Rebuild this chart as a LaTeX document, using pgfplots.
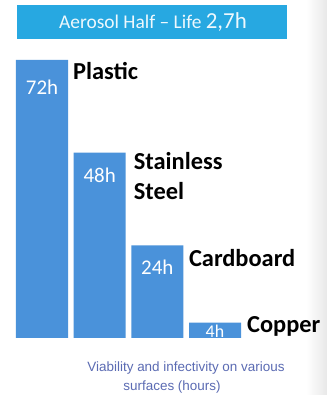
\documentclass[border=0pt]{standalone}
\usepackage{pgfplots}
\pgfplotsset{compat=1.18}
\usepackage{fontspec}
\setmainfont{Carlito}
\newfontfamily\arialf{Liberation Sans}
\definecolor{barblue}{HTML}{4A92DA}
\definecolor{bannerblue}{HTML}{27A8E1}
\definecolor{captioncol}{HTML}{5B6BB3}
\begin{document}
\begin{tikzpicture}
\useasboundingbox (0,0) rectangle (327bp,395bp);
\fill[white] (0,0) rectangle (327bp,395bp);
\shade[left color=white, right color=black!9] (306bp,0) rectangle (327bp,395bp);
% banner
\fill[bannerblue] (17bp,356bp) rectangle (287bp,390bp);
\node[white!92!bannerblue, anchor=base] at (153bp,366bp) {\fontsize{19.5}{21}\selectfont Aerosol Half -- Life \fontsize{23}{24}\selectfont 2,7h};
\begin{axis}[
  at={(42bp,57bp)}, anchor=south west,
  scale only axis, width=173bp, height=278bp,
  xmin=0, xmax=3, ymin=0, ymax=72,
  axis lines=none, clip=false,
  enlargelimits=false,
]
\addplot[ybar, bar width=52bp, bar shift=0pt, fill=barblue, draw=none]
  coordinates {(0,72) (1,48) (2,24) (3,4)};
% value labels
\node[white, anchor=center, font=\fontsize{21}{22}\selectfont] at (axis cs:0,72) [yshift=-27bp] {72h};
\node[white, anchor=center, font=\fontsize{21}{22}\selectfont] at (axis cs:1,48) [yshift=-23bp] {48h};
\node[white, anchor=center, font=\fontsize{21}{22}\selectfont] at (axis cs:2,24) [yshift=-22bp] {24h};
\node[white, anchor=center, font=\fontsize{18}{20}\selectfont] at (axis cs:3,2) [yshift=-0.5bp] {4h};
% category labels
\node[anchor=base west, inner sep=0pt, font=\bfseries\fontsize{24.5}{28}\selectfont] at (axis cs:0,72) [xshift=31bp, yshift=-20bp] {Plastic};
\node[anchor=base west, inner sep=0pt, font=\bfseries\fontsize{24.5}{28}\selectfont] at (axis cs:1,48) [xshift=34bp, yshift=-17bp] {Stainless};
\node[anchor=base west, inner sep=0pt, font=\bfseries\fontsize{24.5}{28}\selectfont] at (axis cs:1,48) [xshift=34bp, yshift=-47bp] {Steel};
\node[anchor=base west, inner sep=0pt, font=\bfseries\fontsize{24.5}{28}\selectfont] at (axis cs:2,24) [xshift=31.5bp, yshift=-21bp] {Cardboard};
\node[anchor=base west, inner sep=0pt, font=\bfseries\fontsize{24.5}{28}\selectfont] at (axis cs:3,0) [xshift=32bp, yshift=5bp] {Copper};
\end{axis}
% caption
\node[captioncol, anchor=base, font=\arialf\fontsize{13.5}{15}\selectfont] at (186bp,24bp) {Viability and infectivity on various};
\node[captioncol, anchor=base, font=\arialf\fontsize{13.5}{15}\selectfont] at (172bp,5bp) {surfaces (hours)};
\end{tikzpicture}
\end{document}
